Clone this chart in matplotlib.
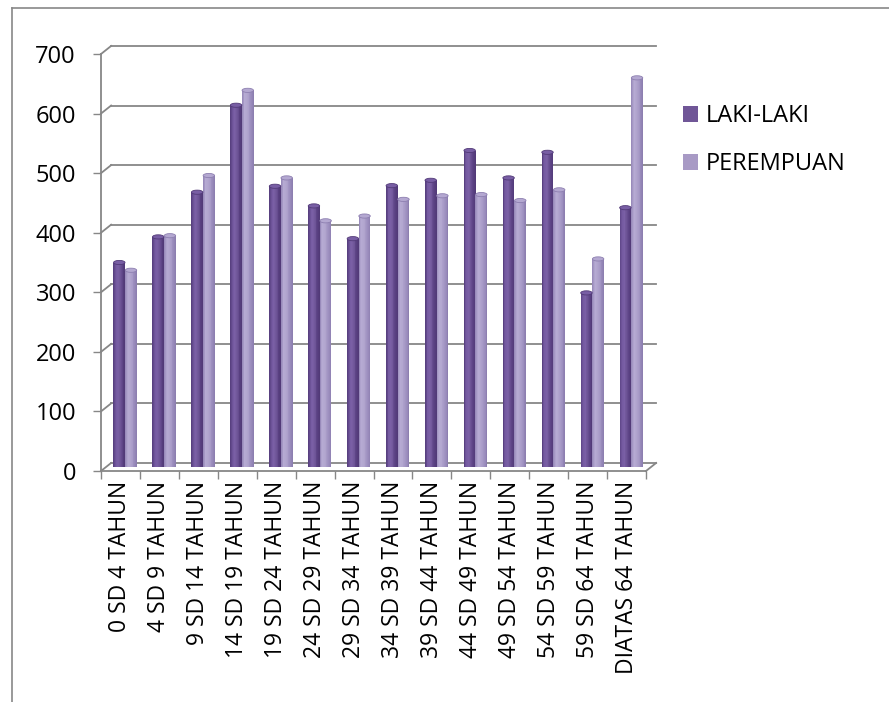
import numpy as np
import matplotlib
matplotlib.use("Agg")
import matplotlib.pyplot as plt
from matplotlib.colors import LinearSegmentedColormap
from matplotlib.lines import Line2D
from matplotlib.patches import Rectangle, Ellipse, Patch

plt.rcParams["font.family"] = ["Open Sans", "DejaVu Sans"]

categories = ["0 SD 4 TAHUN", "4 SD 9 TAHUN", "9 SD 14 TAHUN", "14 SD 19 TAHUN",
              "19 SD 24 TAHUN", "24 SD 29 TAHUN", "29 SD 34 TAHUN", "34 SD 39 TAHUN",
              "39 SD 44 TAHUN", "44 SD 49 TAHUN", "49 SD 54 TAHUN", "54 SD 59 TAHUN",
              "59 SD 64 TAHUN", "DIATAS 64 TAHUN"]
laki = [344, 387, 462, 608, 472, 439, 384, 473, 482, 532, 486, 529, 293, 436]
perempuan = [331, 389, 490, 633, 486, 414, 422, 450, 456, 458, 448, 466, 350, 654]
series_names = ["LAKI-LAKI", "PEREMPUAN"]
yticks = [0, 100, 200, 300, 400, 500, 600, 700]

GRID = "#878787"
DARK = ["#584080", "#7459a0", "#7a60a5", "#6f5598", "#5b4284", "#523a78"]
LIGHT = ["#998bbb", "#b6abd3", "#b3a7d0", "#a99cc8", "#9b8dbd", "#8d7fb0"]

# depth offsets of the pseudo-3D box (data units)
BACK_DX, BACK_DY = 0.26, 13.5
MID_DX, MID_DY = 0.12, 6.0
BAR_W = 0.30

fig = plt.figure(figsize=(8.89, 7.02), dpi=100)
ax = fig.add_axes([101 / 889, (702 - 471) / 702, 545 / 889, 417 / 702])
n = len(categories)
ax.set_xlim(0, n)
ax.set_ylim(0, 700)
for s in ax.spines.values():
    s.set_visible(False)

# back wall gridlines + the short slants back to the value axis
for v in yticks:
    ax.plot([BACK_DX, n + BACK_DX], [v + BACK_DY, v + BACK_DY], color=GRID, lw=1.3,
            clip_on=False, zorder=1)
    ax.plot([0, BACK_DX], [v, v + BACK_DY], color=GRID, lw=1.3, clip_on=False, zorder=1)
# floor front edge, right slant and value axis
ax.plot([0, n], [0, 0], color=GRID, lw=1.3, clip_on=False, zorder=1)
ax.plot([n, n + BACK_DX], [0, BACK_DY], color=GRID, lw=1.3, clip_on=False, zorder=1)
ax.plot([0, 0], [0, 700], color=GRID, lw=1.3, clip_on=False, zorder=1)


def cylinder(x0, h, cols):
    cmap = LinearSegmentedColormap.from_list("c", cols)
    k = 14
    sw = BAR_W / k
    for j in range(k):
        ax.add_patch(Rectangle((x0 + j * sw, MID_DY), sw * 1.02, h, facecolor=cmap(j / (k - 1)),
                               edgecolor="none", zorder=3))
    ax.add_patch(Ellipse((x0 + BAR_W / 2, MID_DY + h), BAR_W * 0.98, 7,
                         facecolor=cmap(0.35), edgecolor=cmap(1.0), lw=0.6, zorder=4))


xc = np.arange(n) + 0.5 + MID_DX
for i in range(n):
    cylinder(xc[i] - BAR_W, laki[i], DARK)
    cylinder(xc[i], perempuan[i], LIGHT)

ax.set_yticks(yticks)
ax.set_yticklabels([str(v) for v in yticks])
ax.set_xticks(np.arange(n + 1))
ax.set_xticklabels([])
ax.set_xticks(np.arange(n) + 0.5, minor=True)
ax.set_xticklabels(categories, minor=True, rotation=90, fontsize=16.5, va="top")
ax.tick_params(axis="y", length=6, width=1.0, color=GRID, pad=12, labelsize=17)
ax.tick_params(axis="x", which="major", length=5.5, width=1.0, color=GRID)
ax.tick_params(axis="x", which="minor", length=0, pad=7)

handles = [Patch(facecolor="#705697", edgecolor="none"), Patch(facecolor="#a89ac5", edgecolor="none")]
fig.legend(handles, series_names, loc="upper left", bbox_to_anchor=(683 / 889, 1 - 104 / 702),
           frameon=False, fontsize=17, handlelength=0.65, handleheight=0.65,
           handletextpad=0.3, labelspacing=1.02, borderpad=0, borderaxespad=0)

# outer chart border
fig.add_artist(Line2D([12 / 889, 1], [1 - 8 / 702] * 2, color=GRID, lw=1.2))
fig.add_artist(Line2D([12 / 889] * 2, [0, 1 - 8 / 702], color=GRID, lw=1.2))

fig.savefig("out.png", dpi=100)
